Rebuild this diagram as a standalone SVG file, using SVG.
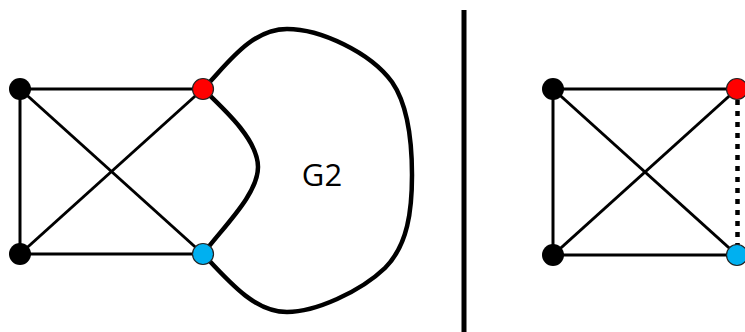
<svg xmlns="http://www.w3.org/2000/svg" width="745" height="332" viewBox="0 0 745 332">
<style>
.e{stroke:#000;stroke-width:3;fill:none}
.c{stroke:#000;stroke-width:4.5;fill:none;stroke-linejoin:round}
.nb{fill:#000}
.nr{fill:#f00;stroke:#222;stroke-width:1.2}
.nc{fill:#00b0f0;stroke:#222;stroke-width:1.2}
</style>
<rect width="745" height="332" fill="#fff"/>
<g id="connectors">
<line class="e" x1="20" y1="89" x2="203" y2="89"/>
<line class="e" x1="20" y1="254" x2="203" y2="254"/>
<line class="e" x1="20" y1="89" x2="20" y2="254"/>
<line class="e" x1="20" y1="89" x2="203" y2="254"/>
<line class="e" x1="20" y1="254" x2="203" y2="89"/>
<path class="c" d="M203,89 C226,66 250,29 287,29 C320,29 370,52 392,82 C410,108 412,150 412,175 C412,210 408,245 385,268 C360,292 315,312 287,312 C255,312 230,283 203,254"/>
<path class="c" d="M203,89 C225,110 258,140 258,167 C258,194 225,225 203,254"/>
<line x1="464" y1="10" x2="464" y2="332" stroke="#000" stroke-width="5"/>
<line class="e" x1="553" y1="89" x2="737" y2="89"/>
<line class="e" x1="553" y1="255" x2="737" y2="255"/>
<line class="e" x1="553" y1="89" x2="553" y2="255"/>
<line class="e" x1="553" y1="89" x2="737" y2="255"/>
<line class="e" x1="553" y1="255" x2="737" y2="89"/>
<line x1="737.5" y1="100" x2="737.5" y2="248" stroke="#000" stroke-width="4.5" stroke-dasharray="5 6"/>
</g>
<g id="n1"><circle class="nb" cx="20" cy="89" r="11"/></g>
<g id="n2"><circle class="nb" cx="20" cy="254" r="11"/></g>
<g id="n3"><circle class="nr" cx="203" cy="89" r="10.5"/></g>
<g id="n4"><circle class="nc" cx="203" cy="254" r="10.5"/></g>
<g id="g2"><text x="322" y="186" font-family="Open Sans, Liberation Sans, sans-serif" font-size="31" text-anchor="middle" fill="#000">G2</text></g>
<g id="m1"><circle class="nb" cx="553" cy="89" r="11"/></g>
<g id="m2"><circle class="nb" cx="553" cy="255" r="11"/></g>
<g id="m3"><circle class="nr" cx="737" cy="89" r="10.5"/></g>
<g id="m4"><circle class="nc" cx="737" cy="255" r="10.5"/></g>
</svg>
